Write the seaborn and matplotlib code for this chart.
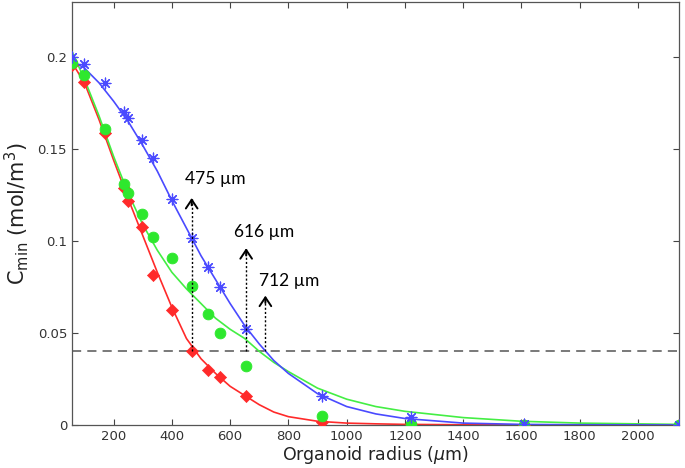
import numpy as np
import pandas as pd
import matplotlib
matplotlib.use('Agg')
import matplotlib.pyplot as plt
import seaborn as sns

# measured points (organoid radius in um, Cmin in mol/m3)
radius = [57, 98, 170, 237, 250, 296, 336, 402, 468, 524, 564, 655, 917, 1220, 1610, 2140]
c_red = [0.1955, 0.1864, 0.1585, 0.129, 0.1218, 0.1074, 0.0813, 0.0627, 0.040, 0.030,
         0.0258, 0.0158, 0.0015, 0.0003, 0.0, 0.0]
c_green = [0.197, 0.190, 0.161, 0.131, 0.126, 0.1145, 0.1024, 0.0905, 0.0758, 0.0605,
           0.050, 0.0322, 0.0051, 0.0006, 0.0002, 0.0]
c_blue = [0.200, 0.196, 0.186, 0.170, 0.167, 0.155, 0.145, 0.123, 0.1014, 0.0858,
          0.0749, 0.0524, 0.0158, 0.0045, 0.0003, 0.0]

# model curves
curve_r = [57, 100, 150, 200, 250, 300, 350, 400, 450, 500, 550, 600, 650, 700, 750,
           800, 900, 1000, 1100, 1200, 1400, 1600, 1800, 2140]
curve_red = [0.197, 0.186, 0.166, 0.144, 0.123, 0.103, 0.083, 0.064, 0.047, 0.036, 0.028,
             0.021, 0.016, 0.011, 0.007, 0.0045, 0.002, 0.001, 0.0006, 0.0003, 0.0001,
             0.0, 0.0, 0.0]
curve_green = [0.203, 0.188, 0.168, 0.146, 0.126, 0.109, 0.095, 0.083, 0.074, 0.066, 0.058,
               0.052, 0.047, 0.040, 0.034, 0.029, 0.020, 0.014, 0.010, 0.0074, 0.004,
               0.002, 0.001, 0.0003]
curve_blue = [0.198, 0.194, 0.186, 0.176, 0.165, 0.152, 0.138, 0.122, 0.107, 0.092, 0.079,
              0.066, 0.054, 0.044, 0.035, 0.028, 0.017, 0.010, 0.006, 0.0035, 0.001,
              0.0003, 0.0001, 0.0]

threshold = 0.04
arrow_x = [468, 655, 721]
arrow_top = [0.1249, 0.0976, 0.0718]
arrow_labels = ['475 µm', '616 µm', '712 µm']
label_pos = [(444, 0.1336), (613, 0.1047), (698, 0.078)]

sns.set_style('white')
plt.rcParams['font.family'] = ['DejaVu Sans']

fig = plt.figure(figsize=(6.85, 4.68), dpi=100)
ax = fig.add_axes([0.105, 0.092, 0.886, 0.904])

red, green, blue = '#ff2a2a', '#2ee82e', '#4a4aff'

sns.lineplot(x=curve_r, y=curve_red, ax=ax, color=red, lw=1.2)
sns.lineplot(x=curve_r, y=curve_green, ax=ax, color='#44ee44', lw=1.2)
sns.lineplot(x=curve_r, y=curve_blue, ax=ax, color=blue, lw=1.2)

sns.scatterplot(x=radius, y=c_red, ax=ax, color=red, marker='D', s=38,
                edgecolor=red, zorder=3)
sns.scatterplot(x=radius, y=c_green, ax=ax, color=green, marker='o', s=60,
                edgecolor=green, zorder=4)
sns.scatterplot(x=radius, y=c_blue, ax=ax, color=blue, marker=(8, 2, 0), s=60,
                linewidth=0.9, edgecolor=blue, zorder=5)

ax.axhline(threshold, color='#555555', lw=1.1, ls=(0, (6, 4)), zorder=1)

for xa, top, lab, (tx, ty) in zip(arrow_x, arrow_top, arrow_labels, label_pos):
    ax.plot([xa, xa], [threshold, top - 0.002], color='black', lw=1.0,
            ls=(0, (1.5, 1.5)), zorder=6)
    ax.annotate('', xy=(xa, top), xytext=(xa, top - 0.007),
                arrowprops=dict(arrowstyle='->,head_length=0.45,head_width=0.3',
                                color='black', lw=1.4, mutation_scale=14), zorder=6)
    ax.text(tx, ty, lab, fontsize=12.5, family='Lato', va='center', ha='left',
            color='black', zorder=7)

ax.set_xlim(min(radius), max(radius))
ax.set_ylim(0, 0.23)
ax.set_xticks(range(200, 2001, 200))
ax.set_yticks([0, 0.05, 0.1, 0.15, 0.2])
ax.set_yticklabels(['0', '0.05', '0.1', '0.15', '0.2'])
ax.tick_params(direction='in', length=4, width=0.8, colors='#444444', labelsize=9.5,
               top=True, right=True, bottom=True, left=True, labelcolor='#333333')
for sp in ax.spines.values():
    sp.set_color('#555555')
    sp.set_linewidth(0.9)

ax.set_xlabel(r'Organoid radius ($\mu$m)', fontsize=12.5, color='#222222', labelpad=1)
ax.set_ylabel(r'C$_{\rm min}$ (mol/m$^3$)', fontsize=15, color='#222222', labelpad=5)

fig.savefig('out.png', dpi=100)
